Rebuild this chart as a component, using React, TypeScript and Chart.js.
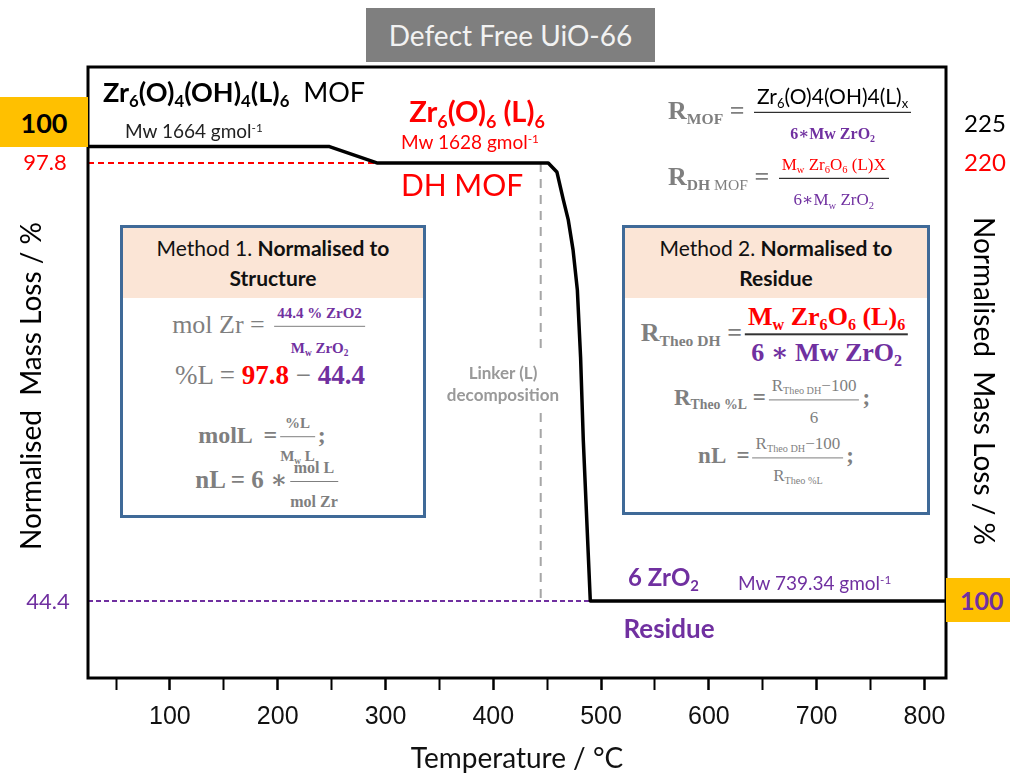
import React, { useEffect, useRef } from "react";
import { Chart, registerables } from "chart.js";
Chart.register(...registerables);

// ---------- data ----------
const TEMP_MIN = 24;
const TEMP_MAX = 820;
const MASS_MIN = 35.0;
const MASS_MAX = 109.5;

const curveTemp = [24, 248, 292, 451, 459, 465, 469.5, 474, 478, 481, 483.5, 490, 820];
const curveMass = [99.8, 99.8, 97.8, 97.8, 96.7, 93.3, 90.9, 87.2, 82.3, 74.1, 64.0, 44.4, 44.4];

const dhLineTemp = [24, 292];
const dhLineMass = [97.8, 97.8];

const residueLineTemp = [24, 490];
const residueLineMass = [44.4, 44.4];

const linkerTemp = 444;
const linkerUpperMass = [97.8, 75.0];
const linkerLowerMass = [67.3, 44.4];

const majorTicks = [100, 200, 300, 400, 500, 600, 700, 800];
const minorTicks = [50, 150, 250, 350, 450, 550, 650, 750];

// ---------- styles ----------
const SANS = 'Lato, "Open Sans", sans-serif';
const SERIF = '"Liberation Serif", "DejaVu Serif", serif';
const NARROW = '"Liberation Sans Narrow", "Liberation Sans", sans-serif';
const GRAY = "#7F7F7F";
const PURPLE = "#7030A0";
const RED = "#FF0000";
const ORANGE = "#FFC000";
const BOX_BORDER = "#3F6A98";
const BOX_HEAD = "#FBE5D6";

function Sub({ children, s = 0.62 }: any) {
  return (
    <span style={{ fontSize: `${s}em`, position: "relative", top: "0.32em", lineHeight: 0 }}>{children}</span>
  );
}
function Sup({ children, s = 0.62 }: any) {
  return (
    <span style={{ fontSize: `${s}em`, position: "relative", top: "-0.55em", lineHeight: 0 }}>{children}</span>
  );
}
function Frac({ num, den, color = "#000", lw = 1.5 }: any) {
  return (
    <span
      style={{
        display: "inline-flex",
        flexDirection: "column",
        alignItems: "stretch",
        verticalAlign: "middle",
        margin: "0 3px",
        lineHeight: 1.2,
      }}
    >
      <span style={{ borderBottom: `${lw}px solid ${color}`, padding: "0 3px 1px", textAlign: "center" }}>{num}</span>
      <span style={{ paddingTop: 2, textAlign: "center" }}>{den}</span>
    </span>
  );
}
function Abs({ x, y, cx = false, children, style = {} }: any) {
  return (
    <div
      style={{
        position: "absolute",
        left: x,
        top: y,
        transform: `translate(${cx ? "-50%" : "0"}, -50%)`,
        whiteSpace: "pre",
        lineHeight: 1.1,
        ...style,
      }}
    >
      {children}
    </div>
  );
}

function ChartCanvas() {
  const ref = useRef<HTMLCanvasElement | null>(null);
  useEffect(() => {
    if (!ref.current) return;
    const pts = (xs: number[], ys: number[]) => xs.map((x, i) => ({ x, y: ys[i] }));
    const framePlugin = {
      id: "frame",
      afterDatasetsDraw(chart: any) {
        const { ctx, chartArea } = chart;
        ctx.save();
        ctx.strokeStyle = "#000";
        ctx.lineWidth = 3;
        ctx.strokeRect(chartArea.left, chartArea.top, chartArea.right - chartArea.left, chartArea.bottom - chartArea.top);
        ctx.restore();
      },
    };
    const chart = new Chart(ref.current, {
      type: "line",
      data: {
        datasets: [
          {
            data: pts(curveTemp, curveMass),
            borderColor: "#000",
            borderWidth: 3.5,
            pointRadius: 0,
            tension: 0,
            borderJoinStyle: "round",
          },
          {
            data: pts(dhLineTemp, dhLineMass),
            borderColor: RED,
            borderWidth: 2,
            borderDash: [6, 4],
            pointRadius: 0,
          },
          {
            data: pts(residueLineTemp, residueLineMass),
            borderColor: PURPLE,
            borderWidth: 2,
            borderDash: [5, 3],
            pointRadius: 0,
          },
          {
            data: pts([linkerTemp, linkerTemp], linkerUpperMass),
            borderColor: "#A6A6A6",
            borderWidth: 2,
            borderDash: [9, 7],
            pointRadius: 0,
          },
          {
            data: pts([linkerTemp, linkerTemp], linkerLowerMass),
            borderColor: "#A6A6A6",
            borderWidth: 2,
            borderDash: [9, 7],
            pointRadius: 0,
          },
        ],
      } as any,
      options: {
        responsive: false,
        animation: false,
        devicePixelRatio: 1,
        layout: { padding: { left: 88, right: 64, top: 67, bottom: 0 } },
        plugins: { legend: { display: false }, tooltip: { enabled: false } },
        scales: {
          x: {
            type: "linear",
            min: TEMP_MIN,
            max: TEMP_MAX,
            afterBuildTicks: (s: any) => {
              s.ticks = [...minorTicks, ...majorTicks].sort((a, b) => a - b).map((v) => ({ value: v }));
            },
            afterFit: (s: any) => {
              s.height = 98;
            },
            grid: {
              display: true,
              drawOnChartArea: false,
              drawTicks: true,
              tickLength: 12,
              tickColor: "#000",
              tickWidth: (c: any) => (c.tick && majorTicks.includes(c.tick.value) ? 2.5 : 2),
            },
            border: { display: false },
            ticks: {
              autoSkip: false,
              maxRotation: 0,
              padding: 12,
              color: "#111",
              font: { family: NARROW, size: 25 },
              callback: (v: any) => (majorTicks.includes(Number(v)) ? String(v) : ""),
            },
          },
          y: { type: "linear", min: MASS_MIN, max: MASS_MAX, display: false },
        },
      } as any,
      plugins: [framePlugin],
    });
    return () => chart.destroy();
  }, []);
  return <canvas ref={ref} width={1010} height={776} style={{ position: "absolute", left: 0, top: 0 }} />;
}

function MethodBox({ x, y, w, h, title2, children }: any) {
  return (
    <div
      style={{
        position: "absolute",
        left: x,
        top: y,
        width: w,
        height: h,
        boxSizing: "border-box",
        border: `3px solid ${BOX_BORDER}`,
        background: "#fff",
      }}
    >
      <div
        style={{
          background: BOX_HEAD,
          height: 70,
          fontFamily: SANS,
          fontSize: 21,
          color: "#111",
          textAlign: "center",
          lineHeight: "30px",
          paddingTop: 5,
          boxSizing: "border-box",
        }}
      >
        <div>
          Method {title2[0]}. <b>Normalised to</b>
        </div>
        <div>
          <b>{title2[1]}</b>
        </div>
      </div>
      {children}
    </div>
  );
}

export default function App() {
  const f = (size: number, color: string, bold = true, family = SERIF) => ({
    fontSize: size,
    color,
    fontWeight: bold ? 700 : 400,
    fontFamily: family,
  });
  return (
    <div style={{ position: "absolute", left: 0, top: 0, width: 1010, height: 776, background: "#fff", overflow: "hidden" }}>
      <ChartCanvas />

      {/* title */}
      <div
        style={{
          position: "absolute",
          left: 366,
          top: 8,
          width: 289,
          height: 54,
          background: "#7F7F7F",
          color: "#F2F2F2",
          fontFamily: SANS,
          fontSize: 28,
          display: "flex",
          alignItems: "center",
          justifyContent: "center",
        }}
      >
        Defect Free UiO-66
      </div>

      {/* left badges / values */}
      <div
        style={{
          position: "absolute",
          left: 0,
          top: 97,
          width: 88,
          height: 50,
          background: ORANGE,
          display: "flex",
          alignItems: "center",
          justifyContent: "center",
          fontFamily: SANS,
          fontWeight: 700,
          fontSize: 27,
          color: "#000",
        }}
      >
        100
      </div>
      <Abs x={45} y={162} cx style={f(22, RED, false, SANS)}>97.8</Abs>
      <Abs x={48} y={601} cx style={f(22, PURPLE, false, SANS)}>44.4</Abs>

      {/* right values */}
      <Abs x={985} y={123} cx style={f(24, "#000", false, SANS)}>225</Abs>
      <Abs x={985} y={162} cx style={f(24, RED, false, SANS)}>220</Abs>
      <div
        style={{
          position: "absolute",
          left: 946,
          top: 578,
          width: 64,
          height: 44,
          background: ORANGE,
          display: "flex",
          alignItems: "center",
          paddingLeft: 14,
          boxSizing: "border-box",
          fontFamily: SANS,
          fontWeight: 700,
          fontSize: 25,
          color: PURPLE,
          whiteSpace: "nowrap",
        }}
      >
        100
      </div>

      {/* MOF labels */}
      <Abs x={103} y={92} style={f(27, "#000", false, SANS)}>
        <b>
          Zr<Sub>6</Sub>(O)<Sub>4</Sub>(OH)<Sub>4</Sub>(L)<Sub>6</Sub>
        </b>
        {"  MOF"}
      </Abs>
      <Abs x={125} y={131} style={f(19, "#222", false, SANS)}>
        Mw 1664 gmol<Sup>-1</Sup>
      </Abs>

      <Abs x={477} y={111} cx style={f(29, RED, true, SANS)}>
        Zr<Sub>6</Sub>(O)<Sub>6</Sub> (L)<Sub>6</Sub>
      </Abs>
      <Abs x={470} y={142} cx style={f(19, RED, false, SANS)}>
        Mw 1628 gmol<Sup>-1</Sup>
      </Abs>
      <Abs x={462} y={184} cx style={f(30, RED, false, SANS)}>DH MOF</Abs>

      {/* top right formulas */}
      <Abs x={668} y={113} style={f(26, GRAY, true)}>
        R<Sub s={0.6}>MOF</Sub>
        {" = "}
        <Frac
          color="#000"
          num={
            <span style={f(21, "#000", false, SANS)}>
              Zr<Sub>6</Sub>(O)4(OH)4(L)<Sub>x</Sub>
            </span>
          }
          den={
            <span style={f(16, PURPLE, true)}>
              6∗Mw ZrO<Sub>2</Sub>
            </span>
          }
        />
      </Abs>
      <Abs x={668} y={179} style={f(26, GRAY, true)}>
        R<Sub s={0.6}>DH <span style={{ fontWeight: 400 }}>MOF</span></Sub>
        {" = "}
        <Frac
          color="#000"
          num={
            <span style={f(17, RED, false)}>
              M<Sub>w</Sub> Zr<Sub>6</Sub>O<Sub>6</Sub> (L)X
            </span>
          }
          den={
            <span style={f(17, PURPLE, false)}>
              6∗M<Sub>w</Sub> ZrO<Sub>2</Sub>
            </span>
          }
        />
      </Abs>

      {/* Method boxes */}
      <MethodBox x={120} y={225} w={306} h={293} title2={["1", "Structure"]} />
      <MethodBox x={622} y={225} w={308} h={290} title2={["2", "Residue"]} />

      {/* Method 1 formulas */}
      <Abs x={270} y={327} cx style={f(26, GRAY, false)}>
        {"mol Zr = "}
        <Frac
          color={GRAY}
          num={<span style={f(15, PURPLE, true)}>44.4 % ZrO2</span>}
          den={
            <span style={f(15, PURPLE, true)}>
              M<Sub>w</Sub> ZrO<Sub>2</Sub>
            </span>
          }
        />
      </Abs>
      <Abs x={270} y={376} cx style={f(27, GRAY, false)}>
        {"%L = "}
        <b style={{ color: RED }}>97.8</b>
        {" − "}
        <b style={{ color: PURPLE }}>44.4</b>
      </Abs>
      <Abs x={262} y={437} cx style={f(24, GRAY, true)}>
        {"molL  ="}
        <Frac
          color={GRAY}
          num={<span style={f(15, GRAY, true)}>%L</span>}
          den={
            <span style={f(15, GRAY, true)}>
              M<Sub>w</Sub> L
            </span>
          }
        />
        ;
      </Abs>
      <Abs x={268} y={482} cx style={f(25, GRAY, true)}>
        {"nL = 6 ∗"}
        <Frac
          color={GRAY}
          num={<span style={f(16, GRAY, true)}>mol L</span>}
          den={<span style={f(16, GRAY, true)}>mol Zr</span>}
        />
      </Abs>

      {/* Method 2 formulas */}
      <Abs x={776} y={335} cx style={f(26, GRAY, true)}>
        R<Sub s={0.6}>Theo DH</Sub>
        {" ="}
        <Frac
          color="#333"
          lw={2}
          num={
            <span style={f(26, RED, true)}>
              M<Sub>w</Sub> Zr<Sub>6</Sub>O<Sub>6</Sub> (L)<Sub>6</Sub>
            </span>
          }
          den={
            <span style={f(26, PURPLE, true)}>
              6 ∗ Mw ZrO<Sub>2</Sub>
            </span>
          }
        />
      </Abs>
      <Abs x={772} y={400} cx style={f(23, GRAY, true)}>
        R<Sub s={0.6}>Theo %L</Sub>
        {" ="}
        <Frac
          color={GRAY}
          num={
            <span style={f(17, GRAY, false)}>
              R<Sub s={0.6}>Theo DH</Sub>−100
            </span>
          }
          den={<span style={f(17, GRAY, false)}>6</span>}
        />
        ;
      </Abs>
      <Abs x={776} y={458} cx style={f(23, GRAY, true)}>
        {"nL  ="}
        <Frac
          color={GRAY}
          num={
            <span style={f(17, GRAY, false)}>
              R<Sub s={0.6}>Theo DH</Sub>−100
            </span>
          }
          den={
            <span style={f(17, GRAY, false)}>
              R<Sub s={0.6}>Theo %L</Sub>
            </span>
          }
        />
        ;
      </Abs>

      {/* linker text */}
      <Abs x={503} y={373} cx style={f(17, "#999", true, SANS)}>Linker (L)</Abs>
      <Abs x={503} y={395} cx style={f(17, "#999", true, SANS)}>decomposition</Abs>

      {/* residue labels */}
      <Abs x={628} y={577} style={f(24, PURPLE, true, SANS)}>
        6 ZrO<Sub>2</Sub>
      </Abs>
      <Abs x={738} y={583} style={f(19, PURPLE, false, SANS)}>
        Mw 739.34 gmol<Sup>-1</Sup>
      </Abs>
      <Abs x={669} y={628} cx style={f(26, PURPLE, true, SANS)}>Residue</Abs>

      {/* axis titles */}
      <Abs x={517} y={757} cx style={f(28, "#111", false, SANS)}>Temperature / °C</Abs>
      <div
        style={{
          position: "absolute",
          left: 30,
          top: 386,
          transform: "translate(-50%, -50%) rotate(-90deg)",
          whiteSpace: "pre",
          fontFamily: SANS,
          fontSize: 28,
          color: "#000",
          lineHeight: 1,
        }}
      >
        Normalised  Mass Loss / %
      </div>
      <div
        style={{
          position: "absolute",
          left: 985,
          top: 381,
          transform: "translate(-50%, -50%) rotate(90deg)",
          whiteSpace: "pre",
          fontFamily: SANS,
          fontSize: 28,
          color: "#000",
          lineHeight: 1,
        }}
      >
        Normalised  Mass Loss / %
      </div>
    </div>
  );
}
